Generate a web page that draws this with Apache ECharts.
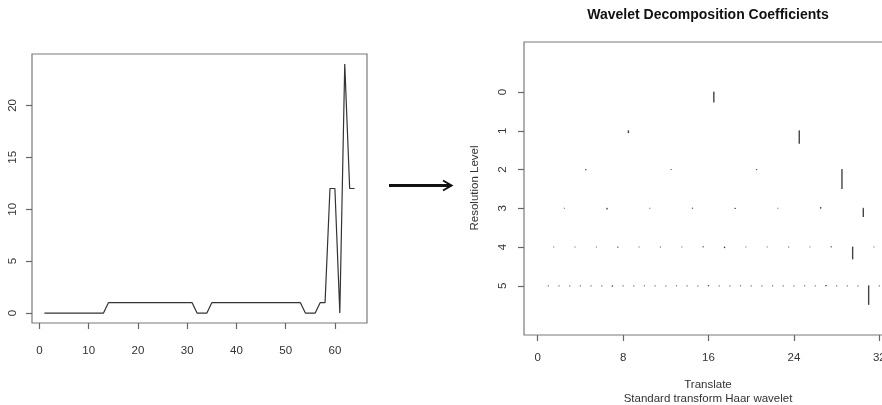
<!DOCTYPE html>
<html>
<head>
<meta charset="utf-8">
<script src="https://cdn.jsdelivr.net/npm/echarts@6/dist/echarts.min.js"></script>
<style>
  html, body { margin: 0; padding: 0; background: #fff; }
  #chart { width: 882px; height: 405px; }
</style>
</head>
<body>
<div id="chart"></div>
<script>
// Input signal, indices 1..64
const signalValues = [
  0, 0, 0, 0, 0, 0, 0, 0, 0, 0, 0, 0, 0,
  1, 1, 1, 1, 1, 1, 1, 1, 1, 1, 1, 1, 1, 1, 1, 1, 1, 1,
  0, 0, 0,
  1, 1, 1, 1, 1, 1, 1, 1, 1, 1, 1, 1, 1, 1, 1, 1, 1, 1, 1,
  0, 0, 0,
  1, 1, 12, 12, 0, 24, 12, 12
];
const signalXTicks = [0, 10, 20, 30, 40, 50, 60];
const signalYTicks = [0, 5, 10, 15, 20];

// Haar detail coefficients per resolution level
const coefLevel0 = [-9.38];
const coefLevel1 = [-2.12, -11.49];
const coefLevel2 = [-0.75, 0.25, -0.5, -17.25];
const coefLevel3 = [0, -1.06, 0, 0.35, -0.71, 0, 1.06, -7.78];
const coefLevel4 = [0, 0, 0, -0.5, 0, 0, 0, 0.5, -1, 0, 0, 0, 0, 0.5, -11, 0];
const coefLevel5 = [
  0, 0, 0, 0, 0, 0, -0.71, 0, 0, 0, 0, 0, 0, 0, 0, 0.71,
  0, 0, 0, 0, 0, 0, 0, 0, 0, 0, 0.71, 0, 0, 0, -16.97, 0
];
const translateTicks = [0, 8, 16, 24, 32];
const levelTicks = [0, 1, 2, 3, 4, 5];

const coefLevels = [coefLevel0, coefLevel1, coefLevel2, coefLevel3, coefLevel4, coefLevel5];
const nTranslate = 32;

// The largest coefficient spans half a level
let maxAbs = 0;
coefLevels.forEach(arr => arr.forEach(v => { maxAbs = Math.max(maxAbs, Math.abs(v)); }));
const coefScale = 0.5 / maxAbs;

// Each coefficient sits at the centre of its support on the translate axis
const coefData = [];
coefLevels.forEach((arr, level) => {
  const step = nTranslate / arr.length;
  arr.forEach((v, i) => {
    coefData.push([(i + 0.5) * step + 0.5, level, v]);
  });
});

const signalData = signalValues.map((v, i) => [i + 1, v]);

const FONT = '"Liberation Sans", Arial, Helvetica, sans-serif';
const frameColor = '#7a7a7a';
const tickColor = '#666';
const labelColor = '#333';

function axisBase(ticks, fontSize, margin, extra) {
  return Object.assign({
    type: 'value',
    splitLine: { show: false },
    axisLine: { show: false, onZero: false },
    axisTick: { show: true, inside: false, length: 6, customValues: ticks,
      lineStyle: { color: tickColor, width: 1.2 } },
    axisLabel: { customValues: ticks, margin: margin,
      color: labelColor, fontSize: fontSize, fontFamily: FONT }
  }, extra);
}

const chart = echarts.init(document.getElementById('chart'), null, { renderer: 'canvas' });

const xSignal = axisBase(signalXTicks, 11.5, 22, { gridIndex: 0, min: -1.52, max: 66.52, position: 'bottom' });
const xCoef = axisBase(translateTicks, 11.5, 17, { gridIndex: 1, min: -1.28, max: 33.28, position: 'bottom' });
const ySignal = axisBase(signalYTicks, 11.5, 13, { gridIndex: 0, min: -0.96, max: 24.96, position: 'left' });
ySignal.axisLabel.rotate = 90;
const yCoef = axisBase(levelTicks, 11.5, 15, { gridIndex: 1, min: -1.29, max: 6.27, inverse: true, position: 'left' });
yCoef.axisLabel.rotate = 90;

chart.setOption({
  animation: false,
  backgroundColor: '#fff',
  grid: [
    { left: 32, top: 54, width: 335, height: 269, show: true, outerBoundsMode: 'none',
      containLabel: false,
      borderColor: frameColor, borderWidth: 1.2, backgroundColor: 'transparent' },
    { left: 524, top: 42, width: 369, height: 293, show: true, outerBoundsMode: 'none',
      containLabel: false,
      borderColor: frameColor, borderWidth: 1.2, backgroundColor: 'transparent' }
  ],
  xAxis: [xSignal, xCoef],
  yAxis: [ySignal, yCoef],
  series: [
    {
      type: 'line',
      xAxisIndex: 0, yAxisIndex: 0,
      data: signalData,
      showSymbol: false,
      symbol: 'none',
      lineStyle: { color: '#333', width: 1.2 }
    },
    {
      type: 'custom',
      xAxisIndex: 1, yAxisIndex: 1,
      data: coefData,
      encode: { x: 0, y: 1 },
      clip: true,
      renderItem: function (params, api) {
        const x = api.value(0), lev = api.value(1), c = api.value(2);
        const p0 = api.coord([x, lev]);
        const p1 = api.coord([x, lev - c * coefScale]);
        return {
          type: 'group',
          children: [
            { type: 'rect',
              shape: { x: p0[0] - 0.6, y: p0[1] - 0.6, width: 1.2, height: 1.2 },
              style: { fill: '#777' } },
            { type: 'line',
              shape: { x1: p0[0], y1: p0[1], x2: p1[0], y2: p1[1] },
              style: { stroke: '#444', lineWidth: 1.4 } }
          ]
        };
      }
    }
  ],
  graphic: [
    { type: 'text', x: 708, y: 15,
      style: { text: 'Wavelet Decomposition Coefficients', fill: '#111',
        font: 'bold 14px ' + FONT, textAlign: 'center', textVerticalAlign: 'middle' } },
    { type: 'text', x: 475, y: 188, rotation: Math.PI / 2,
      style: { text: 'Resolution Level', fill: labelColor,
        font: '11.5px ' + FONT, textAlign: 'center', textVerticalAlign: 'middle' } },
    { type: 'text', x: 708, y: 385,
      style: { text: 'Translate', fill: labelColor,
        font: '11.5px ' + FONT, textAlign: 'center', textVerticalAlign: 'middle' } },
    { type: 'text', x: 708, y: 399,
      style: { text: 'Standard transform Haar wavelet', fill: labelColor,
        font: '11.5px ' + FONT, textAlign: 'center', textVerticalAlign: 'middle' } },
    // arrow between the two panels
    { type: 'line', shape: { x1: 389, y1: 185.5, x2: 450, y2: 185.5 },
      style: { stroke: '#111', lineWidth: 3 } },
    { type: 'polyline', shape: { points: [[443, 180.5], [451.5, 185.5], [443, 190.5]] },
      style: { stroke: '#111', lineWidth: 2, fill: null } }
  ]
});
</script>
</body>
</html>
